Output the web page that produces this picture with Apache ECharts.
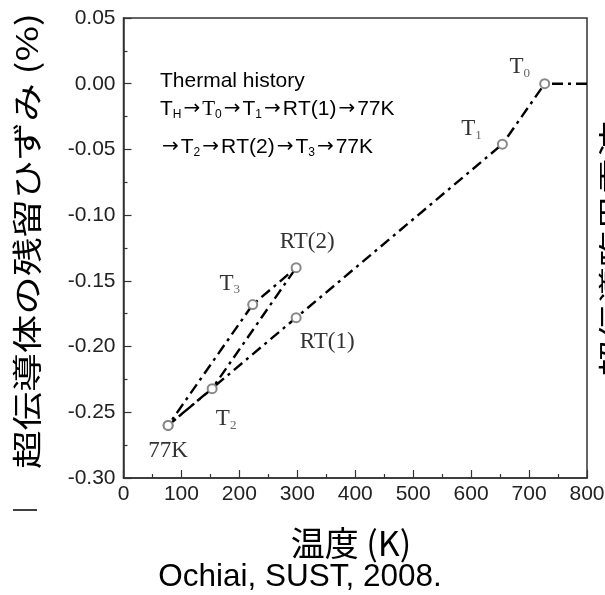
<!DOCTYPE html>
<html><head><meta charset="utf-8">
<script src="https://cdn.jsdelivr.net/npm/echarts@6/dist/echarts.min.js"></script>
<style>html,body{margin:0;padding:0;background:#fff}#c{width:605px;height:595px}</style>
</head><body><div id="c"></div>
<script>
// Thermal history path (in order)
const stepNames = ['TH', 'T0', 'T1', 'RT(1)', '77K', 'T2', 'RT(2)', 'T3', '77K'];
const temperatureK = [800, 727, 654, 298, 77, 153, 298, 223, 77];
const residualStrain = [0.000, 0.000, -0.046, -0.178, -0.260, -0.232, -0.140, -0.168, -0.260];
const xAxisRange = [0, 800, 100];
const yAxisRange = [-0.30, 0.05, 0.05];
const yTitle = '超伝導体の残留ひずみ (%)';
const xTitle = '温度 (K)';
const sourceText = 'Ochiai, SUST, 2008.';
const historyLines = [
  'Thermal history',
  'T_H→T0→T_1→RT(1)→77K',
  '→T_2→RT(2)→T_3→77K'
];
const rightCutText = '超伝導臨界電流';

// label offsets (layout only)
const labelOffsets = {
  0: [-14, 30], 1: [-25, -17], 2: [-31, -15], 3: [31, 24],
  4: [0, 26], 5: [14, 30], 6: [11, -26], 7: [-23, -21]
};

function pointLabel(name) {
  const m = name.match(/^T(.+)$/);
  if (m && name !== 'T') return '{t|T}{s|' + m[1] + '}';
  return '{t|' + name + '}';
}

const seriesData = temperatureK.map((x, i) => {
  const item = { value: [x, residualStrain[i]], name: stepNames[i] };
  if (i === 0) item.symbol = 'none';
  if (labelOffsets[i]) {
    item.label = { show: true, position: 'inside', offset: labelOffsets[i],
      formatter: pointLabel(stepNames[i]) };
  } else {
    item.label = { show: false };
  }
  return item;
});

function measure(text, font) {
  const c = document.createElement('canvas').getContext('2d');
  c.font = font;
  return c.measureText(text).width;
}

const cjkFont = "'Noto Sans CJK JP', 'Noto Sans', sans-serif";
const yTitleSize = 30;
const yTitleScale = 456 / measure(yTitle, yTitleSize + 'px ' + cjkFont);
const rightScale = 256 / measure(rightCutText, '30px ' + cjkFont);

function historyRich(line) {
  let out = '';
  const re = /T_(.)|T0|→|[^T→]+|T/g;
  let m;
  while ((m = re.exec(line)) !== null) {
    if (m[0].startsWith('T_')) out += '{a|T}{b|' + m[1] + '}';
    else if (m[0] === 'T0') out += '{r|T}{b|0}';
    else if (m[0] === '→') out += '{w|→}';
    else out += '{a|' + m[0] + '}';
  }
  return out;
}
const histRich = {
  a: { fontFamily: 'Liberation Sans', fontSize: 21, color: '#222', lineHeight: 24 },
  w: { fontFamily: 'DejaVu Sans', fontSize: 20, color: '#222', lineHeight: 24, padding: [0, 2, 0, 2] },
  r: { fontFamily: 'Liberation Serif', fontSize: 21, color: '#555', lineHeight: 24 },
  b: { fontFamily: 'Liberation Sans', fontSize: 12, color: '#555', lineHeight: 9, verticalAlign: 'bottom' }
};
const histY = [81, 109, 147];

const tickFont = { fontFamily: 'Liberation Sans', fontSize: 21, color: '#222' };

const chart = echarts.init(document.getElementById('c'), null, { renderer: 'canvas' });
chart.setOption({
  backgroundColor: '#fff',
  animation: false,
  grid: { left: 123.5, right: 18, top: 18, bottom: 117, show: true, outerBoundsMode: 'none',
    containLabel: false,
    borderColor: '#333', borderWidth: 1.5, backgroundColor: 'transparent' },
  xAxis: {
    type: 'value', min: xAxisRange[0], max: xAxisRange[1], interval: xAxisRange[2],
    axisLine: { show: true, onZero: false, lineStyle: { color: '#333', width: 1.5 } },
    axisTick: { show: true, inside: true, length: 8, lineStyle: { color: '#333', width: 1.2 } },
    minorTick: { show: true, splitNumber: 2, length: 4, lineStyle: { color: '#333', width: 1.2 } },
    splitLine: { show: false },
    axisLabel: Object.assign({ margin: 6 }, tickFont)
  },
  yAxis: {
    type: 'value', min: yAxisRange[0], max: yAxisRange[1], interval: yAxisRange[2],
    axisLine: { show: true, onZero: false, lineStyle: { color: '#333', width: 1.5 } },
    axisTick: { show: true, inside: true, length: 8, lineStyle: { color: '#333', width: 1.2 } },
    minorTick: { show: true, splitNumber: 2, length: 4, lineStyle: { color: '#333', width: 1.2 } },
    splitLine: { show: false },
    axisLabel: Object.assign({ margin: 8, formatter: v => v.toFixed(2) }, tickFont)
  },
  series: [{
    type: 'line',
    data: seriesData,
    symbol: 'emptyCircle',
    symbolSize: 9,
    itemStyle: { color: '#888', borderWidth: 1.2 },
    lineStyle: { color: '#000', width: 2.4, type: [11, 5, 3, 5] },
    label: {
      rich: {
        t: { fontFamily: 'Liberation Serif', fontSize: 23, color: '#333', lineHeight: 26 },
        s: { fontFamily: 'Liberation Serif', fontSize: 13, color: '#666', lineHeight: 8, verticalAlign: 'bottom' }
      }
    },
    z: 3
  }],
  graphic: [
    {
      type: 'text', x: 27, y: 241, rotation: Math.PI / 2, scaleX: yTitleScale, scaleY: 1,
      style: { text: yTitle, font: yTitleSize + 'px ' + cjkFont, fill: '#000',
        align: 'center', verticalAlign: 'middle' }
    },
    {
      type: 'text', x: 613, y: 249, rotation: Math.PI / 2, scaleX: rightScale,
      style: { text: rightCutText, font: '30px ' + cjkFont, fill: '#000',
        align: 'center', verticalAlign: 'middle' }
    },
    {
      type: 'text', x: 351, y: 543,
      style: { text: xTitle, font: "34px 'Noto Sans CJK JP', 'Liberation Sans', sans-serif", fill: '#000',
        align: 'center', verticalAlign: 'middle' }
    },
    {
      type: 'text', x: 300, y: 577,
      style: { text: sourceText, font: "31.5px 'Liberation Sans', sans-serif", fill: '#000',
        align: 'center', verticalAlign: 'middle' }
    },
    {
      type: 'line', shape: { x1: 13, y1: 510, x2: 37, y2: 510 },
      style: { stroke: '#000', lineWidth: 1.5 }
    }
  ].concat(historyLines.map((ln, i) => ({
    type: 'text', x: 160, y: histY[i],
    style: { text: historyRich(ln), rich: histRich, align: 'left', verticalAlign: 'middle' }
  })))
});
</script></body></html>
